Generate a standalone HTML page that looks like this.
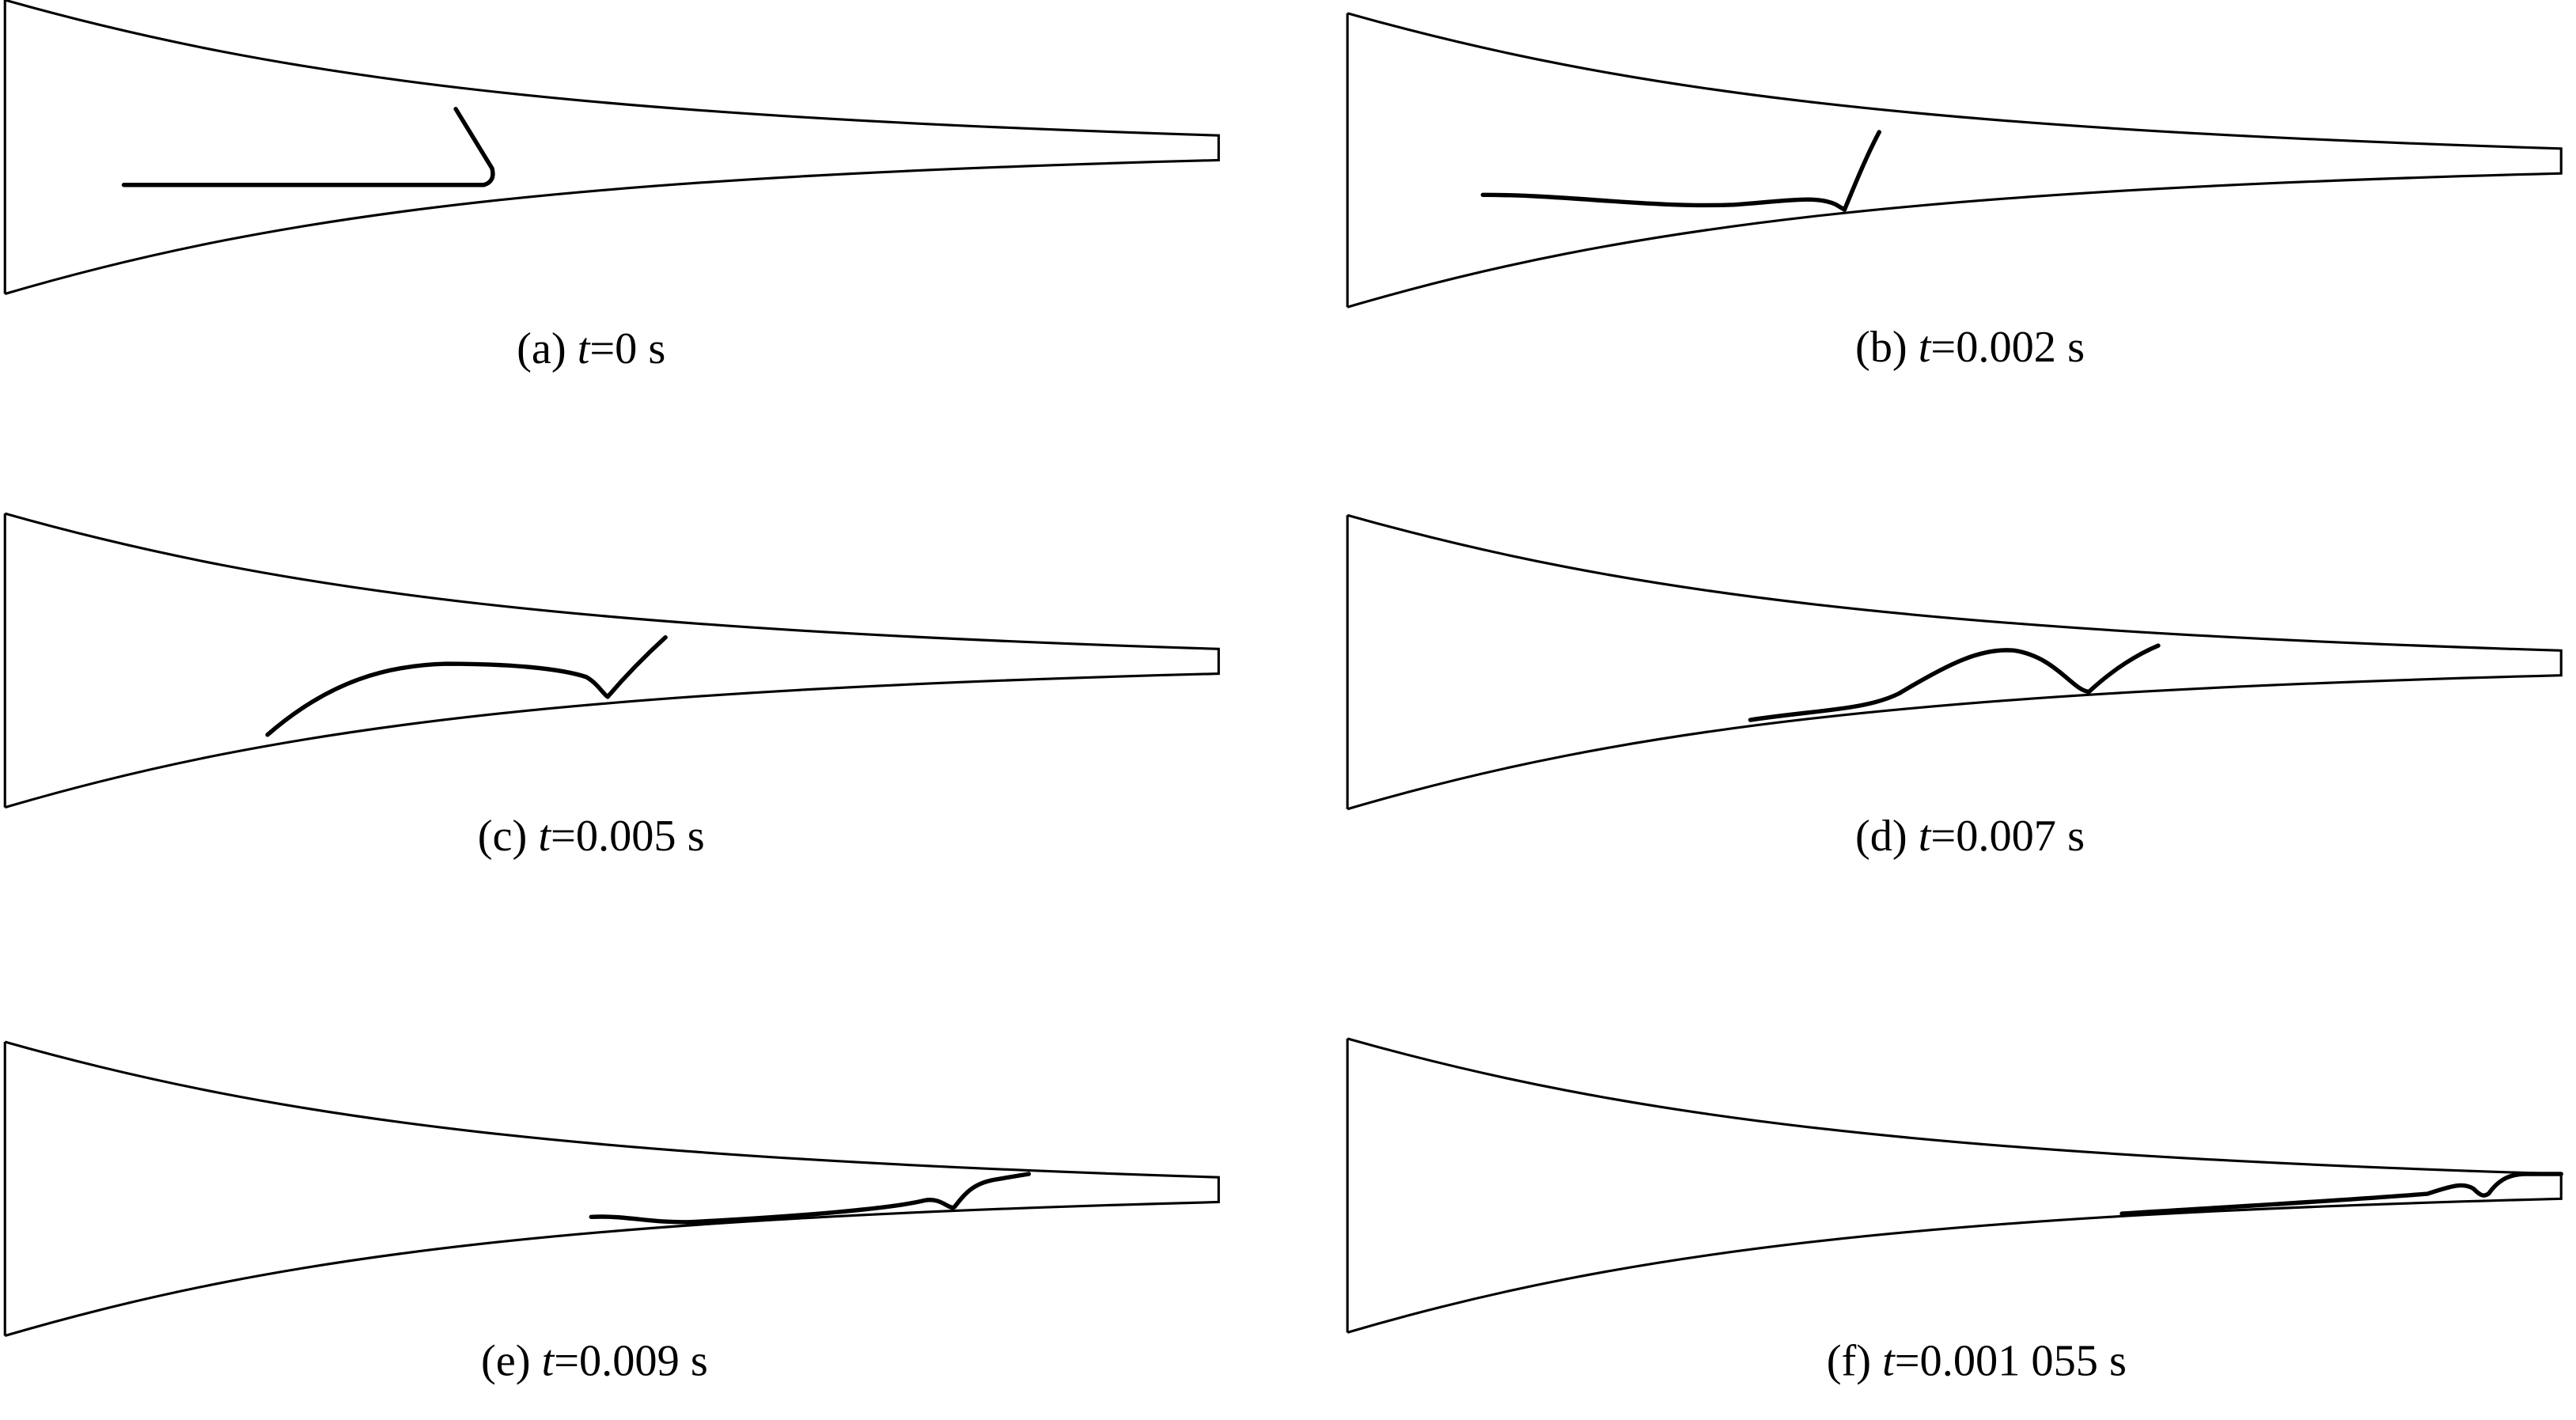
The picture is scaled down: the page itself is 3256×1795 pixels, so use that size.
<!DOCTYPE html>
<html><head><style>
html,body{margin:0;padding:0;background:#fff;}
svg{display:block;}
text{font-family:"Liberation Serif",serif;font-size:27px;fill:#000;}
</style></head><body>
<svg width="3256" height="1795" viewBox="0 0 1560 860" preserveAspectRatio="none" xmlns="http://www.w3.org/2000/svg">
<defs>
<g id="horn" fill="none" stroke="#000" stroke-width="1.5">
<path d="M0,0 L0,178"/>
<path d="M0,0 C170,48 350,70 735,82 L735,97 C350,107 170,128 0,178"/>
</g>
</defs>
<use href="#horn" x="3" y="0"/>
<use href="#horn" x="816" y="8"/>
<use href="#horn" x="3" y="311"/>
<use href="#horn" x="816" y="312"/>
<use href="#horn" x="3" y="631"/>
<use href="#horn" x="816" y="629"/>
<g fill="none" stroke="#000" stroke-width="2.6" stroke-linecap="round" stroke-linejoin="round">
<path d="M75,112 L293,112 Q300,110 298,102 L276,66"/>
<path d="M898,118 C950,118 1000,126 1050,124 C1080,122 1100,118 1112,124 L1117,127 C1122,115 1130,95 1138,80"/>
<path d="M162,445 C200,412 235,403 270,402 C310,402 340,405 355,410 C362,414 365,420 368,422 C380,408 392,396 403,386"/>
<path d="M1060,436 C1100,430 1130,430 1150,420 C1180,402 1200,392 1220,394 C1245,398 1255,418 1265,419 C1280,405 1295,396 1307,391"/>
<path d="M358,737 C380,736 395,741 420,740 C480,737 540,732 560,727 C570,725 575,733 578,731 C585,722 590,716 605,714 L623,711"/>
<path d="M1285,735 C1350,731 1420,727 1470,723 C1485,718 1492,716 1498,720 C1502,724 1504,725 1507,723 C1512,716 1518,711 1530,711 L1551,711"/>
</g>
<text x="358" y="220" text-anchor="middle">(a) <tspan font-style="italic">t</tspan>=0 s</text>
<text x="1193" y="219" text-anchor="middle">(b) <tspan font-style="italic">t</tspan>=0.002 s</text>
<text x="358" y="515" text-anchor="middle">(c) <tspan font-style="italic">t</tspan>=0.005 s</text>
<text x="1193" y="515" text-anchor="middle">(d) <tspan font-style="italic">t</tspan>=0.007 s</text>
<text x="360" y="833" text-anchor="middle">(e) <tspan font-style="italic">t</tspan>=0.009 s</text>
<text x="1197" y="833" text-anchor="middle">(f) <tspan font-style="italic">t</tspan>=0.001 055 s</text>
</svg>
</body></html>
